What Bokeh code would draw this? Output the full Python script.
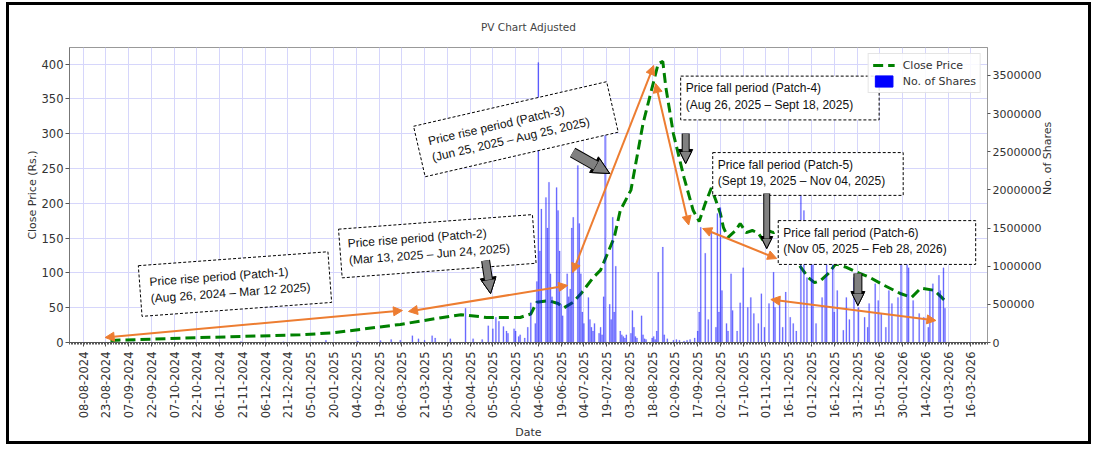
import math
import pandas as pd
from bokeh.plotting import figure
from bokeh.models import (Range1d, LinearAxis, FixedTicker, DatetimeTickFormatter,
                          BasicTickFormatter, Label, Arrow, NormalHead, Legend, LegendItem,
                          ColumnDataSource)
from bokeh.embed import file_html
from bokeh.resources import INLINE

# ---------------- data ----------------
price_dates = ["2024-08-26", "2024-10-24", "2024-12-29", "2025-01-20", "2025-02-11", "2025-03-05",
               "2025-04-02", "2025-04-14", "2025-05-01", "2025-05-10", "2025-05-23", "2025-05-30",
               "2025-06-03", "2025-06-11", "2025-06-17", "2025-06-21", "2025-06-27", "2025-07-02",
               "2025-07-10", "2025-07-15", "2025-07-24", "2025-07-28", "2025-08-04", "2025-08-12",
               "2025-08-17", "2025-08-22", "2025-08-25", "2025-08-27", "2025-09-01", "2025-09-08",
               "2025-09-14", "2025-09-18", "2025-09-22", "2025-09-26", "2025-09-29", "2025-10-02",
               "2025-10-04", "2025-10-07", "2025-10-12", "2025-10-15", "2025-10-19", "2025-10-23",
               "2025-10-27", "2025-10-30", "2025-11-02", "2025-11-06", "2025-11-11", "2025-11-15",
               "2025-11-19", "2025-11-24", "2025-11-29", "2025-12-03", "2025-12-07", "2025-12-12",
               "2025-12-17", "2025-12-24", "2026-01-01", "2026-01-08", "2026-01-18", "2026-01-29",
               "2026-02-05", "2026-02-11", "2026-02-20", "2026-02-27"]
price_values = [3, 7, 11, 14, 20, 26,
                36, 40, 36, 36, 36, 41,
                58, 60, 56, 50, 58, 70,
                93, 104, 151, 190, 219, 315,
                358, 401, 404, 367, 300, 237,
                190, 174, 200, 222, 204, 185,
                165, 151, 161, 171, 158, 161,
                157, 147, 161, 158, 164, 147,
                122, 108, 93, 86, 89, 99,
                113, 108, 100, 94, 82, 70,
                65, 78, 75, 60]

volume_dates = ["2024-09-10", "2024-10-15", "2024-11-20", "2024-12-18", "2025-01-15", "2025-02-05",
                "2025-02-20", "2025-02-27", "2025-03-05", "2025-03-13", "2025-03-17", "2025-03-21",
                "2025-03-26", "2025-03-28", "2025-04-07", "2025-04-17", "2025-04-22", "2025-04-28",
                "2025-05-02", "2025-05-05", "2025-05-07", "2025-05-09", "2025-05-12", "2025-05-14",
                "2025-05-15", "2025-05-19", "2025-05-20", "2025-05-22", "2025-05-23", "2025-05-26",
                "2025-05-28", "2025-05-30", "2025-06-02", "2025-06-03", "2025-06-04", "2025-06-05",
                "2025-06-06", "2025-06-09", "2025-06-10", "2025-06-11", "2025-06-12", "2025-06-13",
                "2025-06-16", "2025-06-17", "2025-06-18", "2025-06-19", "2025-06-20", "2025-06-23",
                "2025-06-24", "2025-06-25", "2025-06-26", "2025-06-27", "2025-06-30", "2025-07-01",
                "2025-07-02", "2025-07-03", "2025-07-04", "2025-07-07", "2025-07-08", "2025-07-09",
                "2025-07-10", "2025-07-11", "2025-07-14", "2025-07-15", "2025-07-16", "2025-07-17",
                "2025-07-18", "2025-07-21", "2025-07-22", "2025-07-23", "2025-07-24", "2025-07-25",
                "2025-07-28", "2025-07-29", "2025-07-30", "2025-07-31", "2025-08-01", "2025-08-04",
                "2025-08-05", "2025-08-06", "2025-08-07", "2025-08-08", "2025-08-11", "2025-08-12",
                "2025-08-13", "2025-08-14", "2025-08-18", "2025-08-19", "2025-08-20", "2025-08-21",
                "2025-08-22", "2025-08-25", "2025-08-26", "2025-08-28", "2025-09-01", "2025-09-03",
                "2025-09-05", "2025-09-08", "2025-09-10", "2025-09-12", "2025-09-15", "2025-09-17",
                "2025-09-18", "2025-09-19", "2025-09-22", "2025-09-24", "2025-09-26", "2025-09-29",
                "2025-09-30", "2025-10-01", "2025-10-02", "2025-10-03", "2025-10-06", "2025-10-07",
                "2025-10-09", "2025-10-10", "2025-10-13", "2025-10-15", "2025-10-17", "2025-10-20",
                "2025-10-22", "2025-10-24", "2025-10-27", "2025-10-29", "2025-10-31", "2025-11-03",
                "2025-11-06", "2025-11-07", "2025-11-10", "2025-11-12", "2025-11-14", "2025-11-17",
                "2025-11-19", "2025-11-21", "2025-11-24", "2025-11-26", "2025-11-28", "2025-12-01",
                "2025-12-02", "2025-12-04", "2025-12-08", "2025-12-10", "2025-12-11", "2025-12-15",
                "2025-12-16", "2025-12-18", "2025-12-22", "2025-12-24", "2025-12-26", "2025-12-29",
                "2026-01-01", "2026-01-05", "2026-01-07", "2026-01-08", "2026-01-12", "2026-01-14",
                "2026-01-16", "2026-01-19", "2026-01-21", "2026-01-23", "2026-01-27", "2026-01-29",
                "2026-02-02", "2026-02-03", "2026-02-06", "2026-02-10", "2026-02-13", "2026-02-16",
                "2026-02-17", "2026-02-19", "2026-02-23", "2026-02-24", "2026-02-26", "2026-02-27"]
volume_values = [10000, 8000, 12000, 10000, 30000, 20000,
                 25000, 40000, 30000, 90000, 50000, 30000,
                 90000, 60000, 50000, 450000, 50000, 40000,
                 220000, 180000, 330000, 280000, 210000, 150000,
                 120000, 180000, 150000, 80000, 100000, 60000,
                 200000, 520000, 250000, 800000, 3670000, 1200000,
                 1750000, 1900000, 1500000, 2100000, 900000, 600000,
                 2030000, 1730000, 1200000, 500000, 350000, 900000,
                 600000, 700000, 1500000, 1640000, 2320000, 1560000,
                 900000, 400000, 250000, 590000, 300000, 200000,
                 150000, 250000, 120000, 200000, 100000, 600000,
                 2780000, 500000, 300000, 1640000, 400000, 1000000,
                 150000, 100000, 80000, 60000, 100000, 120000,
                 420000, 200000, 80000, 60000, 350000, 100000,
                 50000, 40000, 60000, 80000, 40000, 150000,
                 920000, 1250000, 100000, 50000, 30000, 40000,
                 30000, 20000, 30000, 40000, 60000, 150000,
                 400000, 1510000, 1170000, 300000, 1440000, 200000,
                 1690000, 400000, 1770000, 680000, 250000, 150000,
                 900000, 420000, 150000, 520000, 980000, 460000,
                 590000, 380000, 250000, 640000, 200000, 510000,
                 920000, 460000, 590000, 200000, 660000, 330000,
                 250000, 150000, 1950000, 1730000, 850000, 1110000,
                 1200000, 250000, 590000, 850000, 1300000, 1350000,
                 400000, 680000, 160000, 590000, 300000, 850000,
                 460000, 330000, 200000, 510000, 770000, 550000,
                 380000, 200000, 680000, 510000, 590000, 1250000,
                 1350000, 980000, 550000, 380000, 330000, 200000,
                 680000, 770000, 880000, 680000, 980000, 450000]

x_tick_dates = ["2024-08-08", "2024-08-23", "2024-09-07", "2024-09-22", "2024-10-07", "2024-10-22",
                "2024-11-06", "2024-11-21", "2024-12-06", "2024-12-21", "2025-01-05", "2025-01-20",
                "2025-02-04", "2025-02-19", "2025-03-06", "2025-03-21", "2025-04-05", "2025-04-20",
                "2025-05-05", "2025-05-20", "2025-06-04", "2025-06-19", "2025-07-04", "2025-07-19",
                "2025-08-03", "2025-08-18", "2025-09-02", "2025-09-17", "2025-10-02", "2025-10-17",
                "2025-11-01", "2025-11-16", "2025-12-01", "2025-12-16", "2025-12-31", "2026-01-15",
                "2026-01-30", "2026-02-14", "2026-03-01", "2026-03-16"]
price_ticks = [0, 50, 100, 150, 200, 250, 300, 350, 400]
volume_ticks = [0, 500000, 1000000, 1500000, 2000000, 2500000, 3000000, 3500000]

box_texts = ["Price rise period (Patch-1)\n(Aug 26, 2024 \u2013 Mar 12 2025)",
             "Price rise period (Patch-2)\n(Mar 13, 2025 \u2013 Jun 24, 2025)",
             "Price rise period (Patch-3)\n(Jun 25, 2025 \u2013 Aug 25, 2025)",
             "Price fall period (Patch-4)\n(Aug 26, 2025 \u2013 Sept 18, 2025)",
             "Price fall period (Patch-5)\n(Sept 19, 2025 \u2013 Nov 04, 2025)",
             "Price fall period (Patch-6)\n(Nov 05, 2025 \u2013 Feb 28, 2026)"]
box_anchor_dates = ["2024-09-14 14:00", "2025-01-24 12:00", "2025-03-17 14:00",
                    "2025-09-05 19:00", "2025-09-26 22:00", "2025-11-09 02:00"]
box_anchor_prices = [74.0, 127.9, 274.5, 351.4, 242.2, 143.7]
box_angles = [4.2, 4.3, 13.0, 0.0, 0.0, 0.0]
box_paddings = [(10, 20, 10, 10), (8, 25, 8, 10), (11, 25, 11, 10),
                (5, 26, 5, 8), (5, 18, 5, 7), (5, 29, 5, 8)]

orange_arrows = [
    ("2024-08-22 12:00", 7.2, "2025-03-06 10:00", 46.0),
    ("2025-03-10 10:00", 44.6, "2025-06-23 07:00", 82.0),
    ("2025-06-26 14:00", 100.6, "2025-08-19 00:00", 398.1),
    ("2025-08-20 07:00", 372.2, "2025-09-11 02:00", 168.9),
    ("2025-09-20 07:00", 163.8, "2025-11-08 02:00", 120.7),
    ("2025-11-04 05:00", 61.8, "2026-02-21 00:00", 31.6),
]
gray_arrows = [
    ("2025-04-30 05:00", 117.8, "2025-05-03 12:00", 70.4, 7, 14),
    ("2025-06-26 14:00", 273.0, "2025-07-21 00:00", 242.9, 9, 16),
    ("2025-09-09 02:00", 300.4, "2025-09-09 02:00", 257.3, 6, 12),
    ("2025-11-01 12:00", 214.1, "2025-11-01 12:00", 135.1, 5, 10),
    ("2025-12-31 14:00", 99.2, "2025-12-31 14:00", 53.2, 7, 12),
]


def ms(s):
    return pd.Timestamp(s).value / 1e6


FONT = "DejaVu Sans"
BOXFONT = "Liberation Sans"
ORANGE = "#ED7D31"

p = figure(width=1085, height=442, x_axis_type="datetime",
           x_range=Range1d(ms("2024-07-30"), ms("2026-03-27")),
           y_range=Range1d(0, 424),
           output_backend="svg", toolbar_location=None,
           min_border_left=60, min_border_right=107, min_border_top=42, min_border_bottom=105,
           title="PV Chart Adjusted")
p.styles = {"border": "3px solid black", "margin": "2px 0px 0px 6px"}
p.extra_y_ranges = {"vol": Range1d(0, 3.865e6)}

p.title.align = "center"
p.title.vertical_align = "top"
p.title.text_font = FONT
p.title.text_font_size = "10.5px"
p.title.text_font_style = "normal"
p.title.text_color = "#444444"
p.title.standoff = 26

p.outline_line_color = "#999999"
p.background_fill_color = "white"
p.border_fill_color = "white"

# x axis
xa = p.xaxis[0]
minor = [ms(d) for d in pd.date_range("2024-07-30", "2026-03-27", freq="1D")]
xa.ticker = FixedTicker(ticks=[ms(d) for d in x_tick_dates], minor_ticks=minor)
xa.formatter = DatetimeTickFormatter(days="%d-%m-%Y", months="%d-%m-%Y", years="%d-%m-%Y",
                                     hours="%d-%m-%Y", minutes="%d-%m-%Y")
xa.major_label_orientation = math.pi / 2
xa.major_label_text_font = FONT
xa.major_label_text_font_size = "11.5px"
xa.major_label_text_color = "#333333"
xa.major_label_standoff = 5
xa.axis_label = "Date"
xa.axis_label_text_font = FONT
xa.axis_label_text_font_size = "11px"
xa.axis_label_text_font_style = "normal"
xa.axis_label_text_color = "#333333"
xa.axis_label_standoff = 5
xa.axis_line_color = "#555555"
xa.major_tick_line_color = "#555555"
xa.minor_tick_line_color = "#555555"
xa.major_tick_out = 4
xa.major_tick_in = 0
xa.minor_tick_out = 2
xa.minor_tick_in = 0

# left axis
ya = p.yaxis[0]
ya.ticker = FixedTicker(ticks=price_ticks)
ya.major_label_text_font = FONT
ya.major_label_text_font_size = "11.5px"
ya.major_label_text_color = "#333333"
ya.major_label_standoff = 2
ya.axis_label = "Close Price (Rs.)"
ya.axis_label_text_font = FONT
ya.axis_label_text_font_size = "11px"
ya.axis_label_text_font_style = "normal"
ya.axis_label_text_color = "#333333"
ya.axis_label_standoff = 0
ya.axis_line_color = "#777777"
ya.major_tick_line_color = "#555555"
ya.minor_tick_line_color = None
ya.major_tick_out = 4
ya.major_tick_in = 0

# right axis
ra = LinearAxis(y_range_name="vol", ticker=FixedTicker(ticks=volume_ticks),
                formatter=BasicTickFormatter(use_scientific=False))
ra.major_label_text_font = FONT
ra.major_label_text_font_size = "11px"
ra.major_label_text_color = "#333333"
ra.major_label_standoff = 2
ra.axis_line_color = "#999999"
ra.major_tick_line_color = "#555555"
ra.minor_tick_line_color = None
ra.major_tick_out = 3
ra.major_tick_in = 0
ra.axis_label = "No. of Shares"
ra.axis_label_text_font = FONT
ra.axis_label_text_font_size = "11px"
ra.axis_label_text_font_style = "normal"
ra.axis_label_text_color = "#333333"
ra.axis_label_standoff = 3
if hasattr(ra, "axis_label_orientation"):
    ra.axis_label_orientation = math.pi / 2
p.add_layout(ra, "right")

# grid
p.xgrid.grid_line_color = "#d6d6fb"
p.ygrid.grid_line_color = "#d6d6fb"
p.xgrid.grid_line_width = 1
p.ygrid.grid_line_width = 1

# price line (under bars, like the twin-axis original)
price_src = ColumnDataSource(dict(x=[ms(d) for d in price_dates], y=price_values))
line_r = p.line("x", "y", source=price_src, line_color="green", line_width=3, line_dash="10 5")

vol_src = ColumnDataSource(dict(x=[ms(d) for d in volume_dates], top=volume_values))
p.vbar(x="x", top="top", width=0.8 * 86400000, source=vol_src, y_range_name="vol",
       fill_color="blue", fill_alpha=0.55, line_color="blue", line_alpha=0.2, line_width=0.5)
# zero-height swatch renderer used only for the solid legend patch
legend_swatch = p.vbar(x=[ms(volume_dates[0])], top=[0], width=1, y_range_name="vol",
                       fill_color="blue", line_color="blue")

legend = Legend(items=[LegendItem(label="Close Price", renderers=[line_r]),
                       LegendItem(label="No. of Shares", renderers=[legend_swatch])],
                location="top_right", margin=6, padding=4, spacing=2,
                glyph_width=22, glyph_height=14, label_standoff=8,
                label_text_font=FONT, label_text_font_size="11px", label_text_color="#333333",
                border_line_color="#cccccc", background_fill_alpha=0.85)
p.add_layout(legend)

# annotation boxes
for bx, by, ang, txt, pad in zip(box_anchor_dates, box_anchor_prices, box_angles, box_texts,
                                  box_paddings):
    p.add_layout(Label(x=ms(bx), y=by, text=txt, angle=ang, angle_units="deg",
                       text_align="left", text_baseline="middle",
                       text_font=BOXFONT, text_font_size="12px", text_color="#111111",
                       background_fill_color="white", background_fill_alpha=1.0,
                       border_line_color="black", border_line_dash="3 2", border_line_width=1,
                       padding=pad))

# orange double arrows
for (x0, y0, x1, y1) in orange_arrows:
    p.add_layout(Arrow(x_start=ms(x0), y_start=y0, x_end=ms(x1), y_end=y1,
                       line_color=ORANGE, line_width=2,
                       start=NormalHead(size=9, fill_color=ORANGE, line_color=ORANGE),
                       end=NormalHead(size=9, fill_color=ORANGE, line_color=ORANGE)))

# gray block arrows
for (x0, y0, x1, y1, shaft, head) in gray_arrows:
    p.add_layout(Arrow(x_start=ms(x0), y_start=y0, x_end=ms(x1), y_end=y1,
                       line_color="black", line_width=shaft + 2,
                       end=NormalHead(size=head + 2, fill_color="black", line_color="black")))
    p.add_layout(Arrow(x_start=ms(x0), y_start=y0, x_end=ms(x1), y_end=y1,
                       line_color="#808080", line_width=shaft,
                       end=NormalHead(size=head, fill_color="#808080", line_color="black",
                                      line_width=1)))

open("out.html", "w").write(file_html(p, INLINE))
